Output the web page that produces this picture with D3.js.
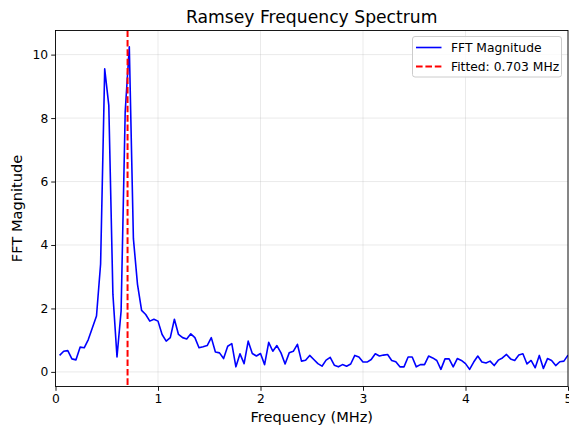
<!DOCTYPE html>
<html>
<head>
<meta charset="utf-8">
<script src="https://cdn.jsdelivr.net/npm/d3@7"></script>
<style>
    body { margin: 0; background: #fff; }
    text { font-family: "DejaVu Sans", sans-serif; fill: #000; }
</style>
</head>
<body>
<div id="chart"></div>
<script>
// frequency bins (MHz), step 0.04
var freqStep = 0.04;
var magnitude = [
    0.52, 0.65, 0.67, 0.41, 0.38, 0.78, 0.76, 1.02, 1.39, 1.76,
    3.40, 9.55, 8.40, 2.45, 0.47, 1.92, 8.20, 10.25, 4.20, 2.76,
    1.94, 1.81, 1.60, 1.66, 1.60, 1.18, 0.97, 1.08, 1.66, 1.18,
    1.08, 1.04, 1.20, 1.08, 0.76, 0.79, 0.83, 1.08, 0.63, 0.60,
    0.42, 0.81, 0.89, 0.16, 0.57, 0.26, 0.97, 0.58, 0.50, 0.58,
    0.23, 0.93, 0.65, 0.83, 0.60, 0.25, 0.60, 0.65, 0.87, 0.34,
    0.37, 0.52, 0.39, 0.26, 0.18, 0.37, 0.46, 0.21, 0.16, 0.23,
    0.18, 0.25, 0.52, 0.47, 0.31, 0.31, 0.39, 0.57, 0.50, 0.53,
    0.55, 0.36, 0.32, 0.16, 0.16, 0.47, 0.47, 0.16, 0.23, 0.23,
    0.50, 0.44, 0.36, 0.08, 0.41, 0.41, 0.16, 0.42, 0.36, 0.26,
    0.08, 0.31, 0.50, 0.31, 0.28, 0.34, 0.20, 0.37, 0.44, 0.55,
    0.41, 0.36, 0.53, 0.57, 0.25, 0.36, 0.13, 0.52, 0.11, 0.42,
    0.36, 0.20, 0.32, 0.34, 0.53
];
var fittedFreq = 0.703;
var xTicks = [0, 1, 2, 3, 4, 5];
var yTicks = [0, 2, 4, 6, 8, 10];
var xDomain = [0, 5];
var yDomain = [-0.46, 10.76];

var data = magnitude.map(function (v, i) {
    return {f: (i + 1) * freqStep, m: v};
});

var width = 569, height = 430;
var pLeft = 55.5, pRight = 568, pTop = 30.5, pBottom = 386.5;

var svg = d3.select("#chart").append("svg")
    .attr("width", width)
    .attr("height", height);

var xscale = d3.scaleLinear().domain(xDomain).range([pLeft, pRight]);
var yscale = d3.scaleLinear().domain(yDomain).range([pBottom, pTop]);

// grid
var grid = svg.append("g").attr("id", "grid");
grid.selectAll("line.gx").data(xTicks).enter().append("line")
    .attr("class", "gx")
    .attr("x1", function (d) { return xscale(d); })
    .attr("x2", function (d) { return xscale(d); })
    .attr("y1", pTop).attr("y2", pBottom)
    .attr("stroke", "#b0b0b0").attr("stroke-opacity", 0.3).attr("stroke-width", 0.9);
grid.selectAll("line.gy").data(yTicks).enter().append("line")
    .attr("class", "gy")
    .attr("y1", function (d) { return yscale(d); })
    .attr("y2", function (d) { return yscale(d); })
    .attr("x1", pLeft).attr("x2", pRight)
    .attr("stroke", "#b0b0b0").attr("stroke-opacity", 0.3).attr("stroke-width", 0.9);

// clip for the data
svg.append("clipPath").attr("id", "clip")
    .append("rect")
    .attr("x", pLeft).attr("y", pTop)
    .attr("width", pRight - pLeft).attr("height", pBottom - pTop);

var line = d3.line()
    .x(function (d) { return xscale(d.f); })
    .y(function (d) { return yscale(d.m); });

svg.append("path")
    .datum(data)
    .attr("clip-path", "url(#clip)")
    .attr("d", line)
    .attr("fill", "none")
    .attr("stroke", "#0000ff")
    .attr("stroke-width", 1.6)
    .attr("stroke-linejoin", "round");

svg.append("line")
    .attr("x1", xscale(fittedFreq)).attr("x2", xscale(fittedFreq))
    .attr("y1", pTop).attr("y2", pBottom)
    .attr("stroke", "#ff0000")
    .attr("stroke-width", 2)
    .attr("stroke-dasharray", "6.6,2.8");

// axes
var xAxis = d3.axisBottom(xscale).tickValues(xTicks).tickSize(4.3).tickPadding(3).tickFormat(d3.format("d"));
var yAxis = d3.axisLeft(yscale).tickValues(yTicks).tickSize(4.3).tickPadding(3).tickFormat(d3.format("d"));

svg.append("g").attr("id", "xAxis")
    .attr("transform", "translate(0," + pBottom + ")")
    .call(xAxis);
svg.append("g").attr("id", "yAxis")
    .attr("transform", "translate(" + pLeft + ",0)")
    .call(yAxis);

svg.selectAll("#xAxis .domain, #yAxis .domain").remove();
svg.selectAll(".tick line").attr("stroke", "#000").attr("stroke-width", 0.9);
svg.selectAll(".tick text").style("font-size", "12.3px").style("font-family", "DejaVu Sans, sans-serif").attr("fill", "#000");

// frame
svg.append("rect")
    .attr("x", pLeft).attr("y", pTop)
    .attr("width", pRight - pLeft).attr("height", pBottom - pTop)
    .attr("fill", "none").attr("stroke", "#000").attr("stroke-width", 0.9);

// titles
svg.append("text")
    .attr("x", (pLeft + pRight) / 2).attr("y", 23)
    .attr("text-anchor", "middle")
    .style("font-size", "17.2px")
    .text("Ramsey Frequency Spectrum");

svg.append("text")
    .attr("x", (pLeft + pRight) / 2).attr("y", 422)
    .attr("text-anchor", "middle")
    .style("font-size", "14.6px")
    .text("Frequency (MHz)");

svg.append("text")
    .attr("transform", "translate(22," + ((pTop + pBottom) / 2) + ") rotate(-90)")
    .attr("text-anchor", "middle")
    .style("font-size", "14.6px")
    .text("FFT Magnitude");

// legend
var legend = svg.append("g").attr("id", "legend");
legend.append("rect")
    .attr("x", 412.5).attr("y", 36.5)
    .attr("width", 149).attr("height", 40.5)
    .attr("rx", 2.5)
    .attr("fill", "#fff").attr("fill-opacity", 0.8)
    .attr("stroke", "#cccccc");
var legendItems = [
    {label: "FFT Magnitude", color: "#0000ff", dash: null, w: 1.6},
    {label: "Fitted: " + fittedFreq.toFixed(3) + " MHz", color: "#ff0000", dash: "6.6,2.8", w: 2}
];
legendItems.forEach(function (d, i) {
    var y = 47.5 + i * 19;
    legend.append("line")
        .attr("x1", 416).attr("x2", 441.5)
        .attr("y1", y).attr("y2", y)
        .attr("stroke", d.color).attr("stroke-width", d.w)
        .attr("stroke-dasharray", d.dash);
    legend.append("text")
        .attr("x", 451).attr("y", y + 4.4)
        .style("font-size", "12.3px")
        .text(d.label);
});
</script>
</body>
</html>
